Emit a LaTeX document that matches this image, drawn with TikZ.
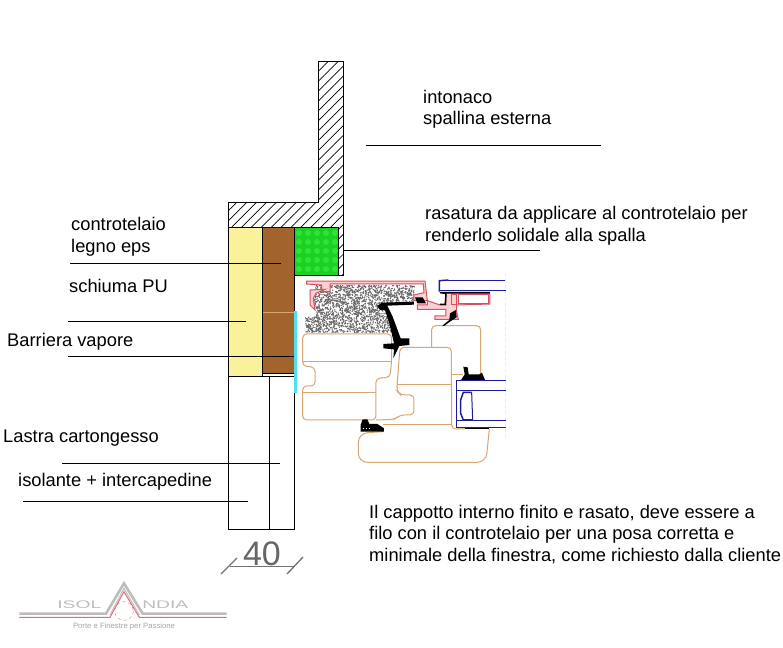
\documentclass[tikz,border=0pt]{standalone}
\usepackage{fontspec}
\setmainfont{Liberation Sans}
\usetikzlibrary{patterns.meta}
\definecolor{foamyellow}{HTML}{FAF29A}
\definecolor{woodbrown}{HTML}{A2642C}
\definecolor{rasgreen}{HTML}{1CD028}
\definecolor{rasdots}{HTML}{2CE632}
\definecolor{vapcyan}{HTML}{4FE0F0}
\definecolor{woodline}{HTML}{D9A672}
\definecolor{profred}{HTML}{D85060}
\definecolor{profpink}{HTML}{FAD0D0}
\definecolor{glassblue}{HTML}{1C1C9C}
\definecolor{logogray}{HTML}{BDBDBD}
\definecolor{logored}{HTML}{D8707C}
\begin{document}
\begin{tikzpicture}[x=1pt,y=-1pt,
label/.style={anchor=base west,inner sep=0pt,font=\fontsize{18.3}{20}\selectfont},
leader/.style={black,line width=.9pt},
wall/.style={draw=black,line width=1pt},
wood/.style={draw=woodline,line width=1pt,rounded corners=4pt},
prof/.style={draw=profred,fill=profpink,line width=1pt},
glass/.style={draw=glassblue,line width=1pt}]
\useasboundingbox[fill=white] (0,0) rectangle (783,647);

% wall and layers
\path[fill=foamyellow] (228,227) rectangle (262,376);
\path[fill=woodbrown] (262,227) rectangle (294,373);
\path[fill=rasgreen] (294,227) rectangle (338,275);
\path[pattern={Dots[radius=3pt,distance=9pt,xshift=2pt]},pattern color=rasdots] (294,227) rectangle (338,275);
\draw[draw=woodline,line width=.6pt] (262,312) -- (294,312);
\draw[wall,pattern={Lines[angle=45,distance=7pt,line width=.7pt]}] (318,62) -- (343,62) -- (343,275) -- (338,275) -- (338,227) -- (228,227) -- (228,202) -- (318,202) -- cycle;
\draw[wall] (228,227) -- (228,529) -- (294,529) -- (294,227);
\draw[wall] (262,227) -- (262,376);
\draw[wall] (262,373) -- (294,373);
\draw[wall] (228,376) -- (294,376);
\draw[wall] (269,376) -- (269,529);
\draw[wall] (294,275) -- (343,275);
\draw[vapcyan,line width=2.4pt] (295.5,311) -- (295.5,393);

% window, coordinates of the enlarged view
\begin{scope}[shift={(290,260)},x=.3333pt,y=-.3333pt]
\begin{scope}
\clip (75,75) -- (375,75) -- (370,125) -- (275,130) -- (300,160) -- (305,218) -- (45,218) -- (45,170) -- (78,170) -- (78,150) -- (68,135) -- (78,100) -- cycle;
\pgfmathsetseed{40}
\foreach \k in {1,...,2400}
{\fill[black!60] ({45+rnd*335},{75+rnd*145}) circle (.75pt);}
\end{scope}
\draw[wood] (305,222) -- (38,222) -- (38,318) -- (75,322) -- (75,378) -- (38,378) -- (38,480) -- (258,480) -- (258,355) -- (300,352) -- (305,300) -- cycle;
\draw[wood] (38,305) -- (305,305) (38,397) -- (258,397);
\draw[wood] (258,480) -- (315,478) -- (330,465) -- (372,465) -- (372,405) -- (332,405) -- (320,392) -- (330,262) -- (484,262) -- (485,507) -- (525,507);
\draw[wood] (320,375) -- (485,375) (280,493) -- (485,493);
\draw[wood] (485,345) -- (520,345);
\draw[wood] (425,262) -- (425,197) -- (572,197) -- (572,345);
\draw[wood,rounded corners=9pt] (280,515) -- (205,520) -- (205,607) -- (588,607) -- (598,507);

\draw[prof] (50,63) -- (405,63) -- (412,122) -- (372,122) -- (372,105) -- (402,98) -- (400,72) -- (120,72) -- (120,95) -- (95,95) -- (95,75) -- (50,72) -- cycle;
\draw[prof] (105,88) -- (60,90) -- (60,135) -- (75,150) -- (70,115) -- (78,100) -- cycle;
\draw[prof] (382,135) -- (412,135) -- (412,122) -- (450,135) -- (468,135) -- (468,100) -- (600,100) -- (600,132) -- (500,135) -- (500,155) -- (505,178) -- (435,178) -- (435,168) -- (468,168) -- (468,148) -- (382,148) -- cycle;
\draw[prof,fill=white] (507,104) -- (595,104) -- (595,130) -- (507,130) -- cycle;
\draw[prof] (485,104) -- (500,104) -- (500,135) -- (485,135) -- cycle;
\draw[glass,line width=1.4pt] (448,95) -- (448,62) -- (475,60);
\draw[glass] (475,60) -- (648,60) (450,93) -- (648,93);
\draw[black,line width=1.5pt] (450,133) -- (466,133) -- (468,100) -- (450,98) -- (600,98);

\fill[black] (262,138) -- (275,128) -- (372,125) -- (372,134) -- (292,137) -- (308,170) -- (332,235) -- (358,235) -- (358,255) -- (328,258) -- (310,295) -- (312,268) -- (280,265) -- (280,252) -- (312,250) -- (298,190) -- (285,150) -- (270,150) -- cycle;
\fill[black] (375,112) -- (398,112) -- (408,130) -- (382,130) -- cycle;
\fill[black] (457,197) -- (478,180) -- (480,160) -- (498,150) -- (500,172) -- (480,185) -- (462,198) -- cycle;
\fill[black] (520,320) -- (533,322) -- (536,343) -- (568,343) -- (576,338) -- (586,362) -- (512,362) -- (524,343) -- cycle;
\fill[black] (212,495) -- (218,478) -- (232,478) -- (238,492) -- (262,492) -- (282,505) -- (282,515) -- (212,515) -- cycle;
\draw[white,dotted,line width=1pt] (218,506) -- (245,506);
\draw[black,line width=1.3pt] (525,506) -- (598,506);

\draw[glass,fill=white] (648,363) -- (500,363) -- (500,502) -- (648,502);
\draw[glass] (500,393) -- (648,393) (500,482) -- (648,482);
\draw[glass,line width=1.5pt] (545,397) -- (520,397) -- (512,420) -- (512,460) -- (520,480) -- (548,480);
\draw[glass] (545,397) -- (548,480);
\draw[foamyellow,dashed,line width=.6pt] (646,40) -- (646,540);
\end{scope}

% leaders
\coordinate (topl) at (366,145);
\coordinate (topr) at (601,145);
\coordinate (rasl) at (343,250);
\coordinate (rasr) at (540,250);
\coordinate (legl) at (70,263);
\coordinate (legr) at (281,263);
\coordinate (schl) at (68,321);
\coordinate (schr) at (246,321);
\coordinate (barl) at (68,356);
\coordinate (barr) at (294,356);
\coordinate (lasl) at (62,463);
\coordinate (lasr) at (280,463);
\coordinate (isol) at (23,501);
\coordinate (isor) at (248,501);
\foreach \T in {top,ras,leg,sch,bar,las,iso}
{\draw[leader] (\T l) -- (\T r);}

% labels
\node[label] (into) at (423,104) {intonaco};
\node[label] (spal) at (423,125) {spallina esterna};
\node[label] (ras1) at (425,219) {rasatura da applicare al controtelaio per};
\node[label] (ras2) at (425,241) {renderlo solidale alla spalla};
\node[label] (cont) at (71,230) {controtelaio};
\node[label] (legn) at (71,252) {legno eps};
\node[label] (schi) at (69,292) {schiuma PU};
\node[label] (barv) at (7,346) {Barriera vapore};
\node[label] (last) at (3,442) {Lastra cartongesso};
\node[label] (isot) at (18,486) {isolante + intercapedine};
\node[label] (par1) at (369,518) {Il cappotto interno finito e rasato, deve essere a};
\node[label] (par2) at (369,539) {filo con il controtelaio per una posa corretta e};
\node[label] (par3) at (369,561) {minimale della finestra, come richiesto dalla cliente};

% dimension
\node[anchor=base,inner sep=0pt,font=\fontsize{34}{36}\selectfont,text=black!60] (dim) at (262,565) {40};
\draw[black!55,line width=.8pt] (230,566) -- (295,566);
\draw[black!55,line width=1.3pt] (221,574) -- (237,558);
\draw[black!55,line width=1.3pt] (287,574) -- (303,557);

% logo
\begin{scope}[shift={(0,530)},x=.3333pt,y=-.3333pt]
\draw[logogray,line width=2.6pt] (58,251) -- (318,251) -- (372,160) -- (428,251) -- (680,251);
\draw[logored,line width=1pt] (58,262) -- (330,262) -- (372,185) -- (418,262) -- (680,262);
\draw[logogray,line width=1pt] (330,255) -- (372,175) -- (418,255);
\draw[logored,dashed,line width=.4pt] (372,243) circle (28);
\node[inner sep=0pt,font=\fontsize{11}{12}\selectfont,text=logogray] (logl) at (238,224) {\scalebox{1.75}[1]{ISOL}};
\node[inner sep=0pt,font=\fontsize{11}{12}\selectfont,text=logogray] (logr) at (496,224) {\scalebox{1.75}[1]{NDIA}};
\node[inner sep=0pt,font=\fontsize{7.7}{9}\selectfont,text=black!35] (logs) at (372,290) {Porte e Finestre per Passione};
\end{scope}
\end{tikzpicture}
\end{document}
